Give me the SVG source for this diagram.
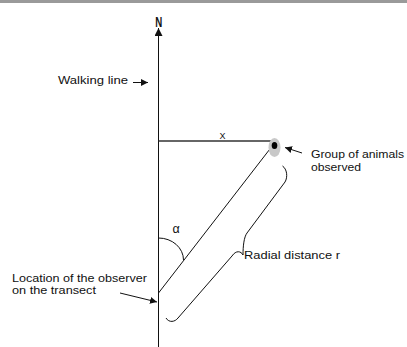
<svg xmlns="http://www.w3.org/2000/svg" width="407" height="347" viewBox="0 0 407 347">
<style>
.t{font-family:"Liberation Sans",Arial,sans-serif;font-size:11.5px;fill:#111}
.ln{stroke:#111;stroke-width:1;fill:none}
</style>
<defs>
<marker id="ah" viewBox="0 0 10 10" refX="10" refY="5" markerWidth="7" markerHeight="7" markerUnits="userSpaceOnUse" orient="auto">
<path d="M0,0 L10,5 L0,10 Z" fill="#111"/>
</marker>
<marker id="ahN" viewBox="0 0 10 10" refX="10" refY="5" markerWidth="9" markerHeight="8" markerUnits="userSpaceOnUse" orient="auto">
<path d="M0,0 L10,5 L0,10 Z" fill="#111"/>
</marker>
</defs>
<rect x="0" y="0" width="407" height="3" fill="#9a9a9a"/>
<g id="connectors">
<line class="ln" x1="158.5" y1="347" x2="158.5" y2="28" stroke-width="1.2" marker-end="url(#ahN)"/>
<line x1="158.5" y1="141" x2="271" y2="141" stroke="#333" stroke-width="1.5"/>
<line class="ln" x1="158.5" y1="293" x2="273" y2="145"/>
<path class="ln" d="M158.5,238 A25,22 0 0 1 183.5,260"/>
<path class="ln" d="M282.5,166 C287,169 288,177 285,182 L247,233 C244,237 243,246 243,255 C241,251 236,250 232,256 L178,318 C175,322 169,323 166,318"/>
<line class="ln" x1="133" y1="82.5" x2="148" y2="82.5" stroke-width="1.3" marker-end="url(#ah)"/>
<line class="ln" x1="302" y1="153" x2="285" y2="147.5" stroke-width="1.3" marker-end="url(#ah)"/>
<line class="ln" x1="120" y1="293" x2="157" y2="302" stroke-width="1.3" marker-end="url(#ah)"/>
</g>
<g id="north">
<text x="155.3" y="27" font-family="Liberation Sans,Arial,sans-serif" font-weight="bold" font-size="15" textLength="7" lengthAdjust="spacingAndGlyphs" fill="#111">N</text>
</g>
<g id="walking-line">
<text class="t" x="58" y="84" textLength="70" lengthAdjust="spacingAndGlyphs">Walking line</text>
</g>
<g id="x-label">
<text x="219.5" y="139" font-family="Liberation Sans,Arial,sans-serif" font-size="9" fill="#111">X</text>
</g>
<g id="group">
<ellipse cx="274.5" cy="147.5" rx="6" ry="9.5" fill="#c8c8c8"/>
<ellipse cx="274.5" cy="145.5" rx="2.8" ry="3.6" fill="#000"/>
<text class="t" x="311" y="158" textLength="93" lengthAdjust="spacingAndGlyphs">Group of animals</text>
<text class="t" x="311" y="171" textLength="50" lengthAdjust="spacingAndGlyphs">observed</text>
</g>
<g id="alpha">
<text x="172.5" y="233" font-family="Liberation Sans,Arial,sans-serif" font-size="12.5" fill="#111">α</text>
</g>
<g id="radial">
<text class="t" x="244" y="259" textLength="96" lengthAdjust="spacingAndGlyphs">Radial distance r</text>
</g>
<g id="observer">
<text class="t" x="12" y="282" textLength="135" lengthAdjust="spacingAndGlyphs">Location of the observer</text>
<text class="t" x="12" y="294" textLength="84" lengthAdjust="spacingAndGlyphs">on the transect</text>
</g>
</svg>
